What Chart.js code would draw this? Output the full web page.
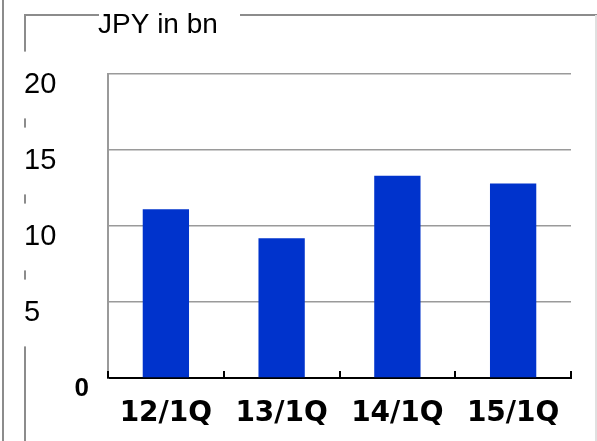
<!DOCTYPE html>
<html>
<head>
<meta charset="utf-8">
<script src="https://cdn.jsdelivr.net/npm/chart.js@4/dist/chart.umd.min.js"></script>
<style>
  html, body { margin: 0; padding: 0; background: #fff; }
  #wrap { width: 597px; height: 441px; position: relative; }
</style>
</head>
<body>
<div id="wrap"><canvas id="chart"></canvas></div>
<script>
// data
const categories = ['12/1Q', '13/1Q', '14/1Q', '15/1Q'];
const salesJpyBn = [11.1, 9.2, 13.3, 12.8];
const yTicks = [0, 5, 10, 15, 20];
const unitLabel = 'JPY in bn';

// scanned-frame look: grey box lines around the chart, title gap on the top edge
const framePlugin = {
  id: 'frame',
  beforeDraw(chart) {
    const ctx = chart.ctx;
    ctx.save();
    ctx.strokeStyle = '#8c8c8c';
    ctx.lineWidth = 2;
    ctx.beginPath();
    ctx.moveTo(3, 0); ctx.lineTo(3, 441);
    ctx.moveTo(25, 15); ctx.lineTo(25, 441);
    ctx.moveTo(24, 15); ctx.lineTo(99, 15);
    ctx.moveTo(240, 15); ctx.lineTo(597, 15);
    ctx.stroke();
    ctx.strokeStyle = '#e0e0e0';
    ctx.beginPath();
    ctx.moveTo(596, 15); ctx.lineTo(596, 441);
    ctx.stroke();
    ctx.restore();
  },
  afterDraw(chart) {
    const ctx = chart.ctx;
    const x = chart.scales.x;
    ctx.save();
    // small upward tick marks at category boundaries
    ctx.strokeStyle = '#000';
    ctx.lineWidth = 2;
    ctx.beginPath();
    for (let i = 0; i <= categories.length; i++) {
      const px = Math.round(x.getPixelForValue(i - 0.5));
      ctx.moveTo(px, x.top);
      ctx.lineTo(px, x.top - 7);
    }
    ctx.stroke();
    // unit label
    ctx.fillStyle = '#000';
    ctx.font = '28px "Liberation Sans", Arial, sans-serif';
    ctx.textBaseline = 'alphabetic';
    ctx.fillText(unitLabel, 98, 33);
    ctx.restore();
  }
};

new Chart(document.getElementById('chart'), {
  type: 'bar',
  data: {
    labels: categories,
    datasets: [{
      data: salesJpyBn,
      backgroundColor: '#0033cc',
      borderWidth: 0,
      barPercentage: 0.8,
      categoryPercentage: 0.5
    }]
  },
  options: {
    responsive: true,
    maintainAspectRatio: false,
    animation: false,
    layout: { padding: { left: 24, right: 26, top: 74, bottom: 0 } },
    plugins: {
      legend: { display: false },
      tooltip: { enabled: false }
    },
    scales: {
      x: {
        grid: { display: false, drawTicks: false },
        border: { display: true, color: '#000', width: 2 },
        ticks: {
          color: '#000',
          padding: 19,
          font: { family: '"DejaVu Sans", Verdana, sans-serif', size: 28, weight: 'bold' }
        },
        afterFit(scale) { scale.height = 63; }
      },
      y: {
        min: 0,
        max: 20,
        afterBuildTicks(scale) { scale.ticks = yTicks.map(v => ({ value: v })); },
        grid: { color: '#9a9a9a', lineWidth: 1.5, drawTicks: false },
        border: { display: true, color: '#9a9a9a', width: 2 },
        ticks: {
          crossAlign: 'far',
          labelOffset: 11,
          color: '#000',
          callback: v => (v === 0 ? '       0' : String(v)),
          font: ctx => (ctx.tick && ctx.tick.value === 0)
            ? { family: '"Liberation Sans", Arial, sans-serif', size: 26, weight: 'bold' }
            : { family: '"Liberation Sans", Arial, sans-serif', size: 29 },
          showLabelBackdrop: true,
          backdropColor: ctx => (ctx.tick && ctx.tick.value === 0) ? 'rgba(0,0,0,0)' : '#fff',
          backdropPadding: { top: 16, bottom: 16, left: 3, right: 3 }
        },
        afterFit(scale) { scale.width = 84; }
      }
    }
  },
  plugins: [framePlugin]
});
</script>
</body>
</html>
